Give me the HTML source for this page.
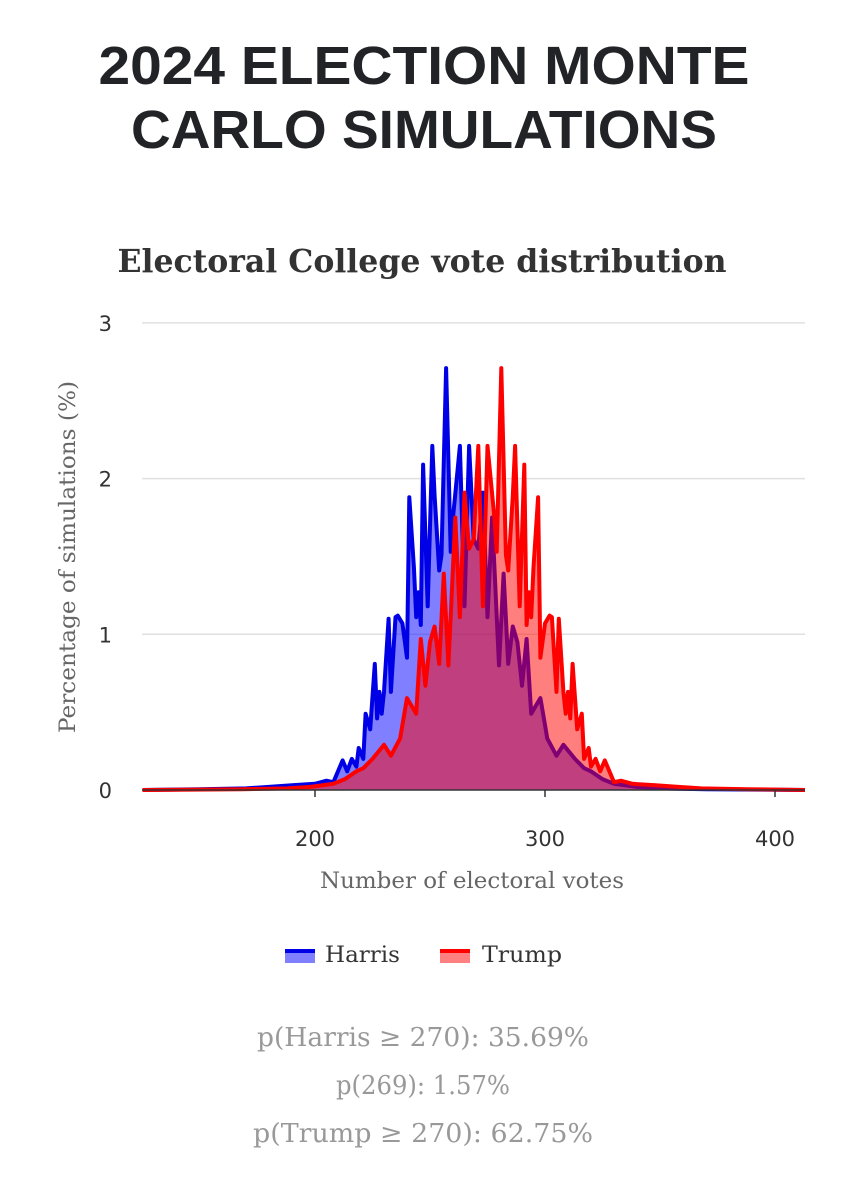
<!DOCTYPE html>
<html><head><meta charset="utf-8"><style>
html,body{margin:0;padding:0;background:#fff;width:848px;height:1200px;overflow:hidden}
svg{display:block}
</style></head><body>
<svg id="chart" width="848" height="1200" viewBox="0 0 848 1200" xmlns="http://www.w3.org/2000/svg">
<text x="424" y="84" text-anchor="middle" font-family="Liberation Sans, sans-serif" font-weight="bold" font-size="54" fill="#222326" textLength="651" lengthAdjust="spacingAndGlyphs">2024 ELECTION MONTE</text>
<text x="424" y="148" text-anchor="middle" font-family="Liberation Sans, sans-serif" font-weight="bold" font-size="54" fill="#222326" textLength="586" lengthAdjust="spacingAndGlyphs">CARLO SIMULATIONS</text>
<text x="422" y="272" text-anchor="middle" font-family="DejaVu Serif, serif" font-weight="bold" font-size="32" fill="#333" textLength="609" lengthAdjust="spacingAndGlyphs">Electoral College vote distribution</text>
<g id="grid"></g>
<g id="series"></g>
<g id="axes"></g>
<text x="472" y="888" text-anchor="middle" font-family="DejaVu Serif, serif" font-size="22" fill="#666" textLength="304" lengthAdjust="spacingAndGlyphs">Number of electoral votes</text>
<text transform="translate(75,557) rotate(-90)" text-anchor="middle" font-family="DejaVu Serif, serif" font-size="22" fill="#666" textLength="352" lengthAdjust="spacingAndGlyphs">Percentage of simulations (%)</text>
<g>
<g>
<rect x="285" y="951" width="30" height="12" fill="#8080ff"/><rect x="285" y="949" width="30" height="4" fill="#0000e6"/>
<text x="325" y="962" font-family="DejaVu Serif, serif" font-size="22" fill="#333" textLength="75" lengthAdjust="spacingAndGlyphs">Harris</text></g>
<g>
<rect x="440" y="951" width="30" height="12" fill="#ff8080"/><rect x="440" y="949" width="30" height="4" fill="#ff0000"/>
<text x="482" y="962" font-family="DejaVu Serif, serif" font-size="22" fill="#333" textLength="80" lengthAdjust="spacingAndGlyphs">Trump</text></g>
</g>
<g font-family="DejaVu Serif, serif" font-size="26" fill="#999" text-anchor="middle">
<text x="423" y="1046" textLength="332" lengthAdjust="spacingAndGlyphs">p(Harris ≥ 270): 35.69%</text>
<text x="423" y="1094" textLength="174" lengthAdjust="spacingAndGlyphs">p(269): 1.57%</text>
<text x="423" y="1142" textLength="340" lengthAdjust="spacingAndGlyphs">p(Trump ≥ 270): 62.75%</text>
</g>
</svg>
<script>
const harrisVotes=[125,150,170,180,190,200,205,208,212,214,216,218,219,221,222,224,226,227,228,229,230,232,233,235,236,238,240,241,243,244,245,246,247,249,251,252,254,255,257,259,260,263,265,267,269,271,273,275,277,280,282,284,286,288,290,292,294,298,301,305,308,313,317,320,325,330,340,350,370,413];
const harrisValues=[0,0.005,0.01,0.02,0.03,0.04,0.06,0.05,0.19,0.12,0.2,0.15,0.27,0.2,0.49,0.39,0.81,0.46,0.63,0.49,0.63,1.10,0.63,1.11,1.12,1.07,0.85,1.88,1.43,1.11,1.27,1.06,2.09,1.18,2.21,1.89,1.41,1.51,2.71,1.53,1.75,2.21,1.18,2.21,1.61,1.55,1.91,1.11,1.75,0.8,1.39,0.81,1.05,0.95,0.67,0.97,0.49,0.59,0.33,0.22,0.29,0.2,0.14,0.12,0.07,0.04,0.02,0.01,0.005,0];
const trumpVotes=[125,168,188,198,208,213,218,221,225,230,233,237,240,244,246,248,250,252,254,256,258,261,263,265,267,269,271,273,275,278,279,281,283,284,286,287,289,291,292,293,294,295,297,298,300,302,303,305,306,308,309,310,311,312,314,316,317,319,320,322,324,326,330,333,338,348,358,368,388,413];
const trumpValues=[0,0.005,0.01,0.02,0.04,0.07,0.12,0.14,0.2,0.29,0.22,0.33,0.59,0.49,0.97,0.67,0.95,1.05,0.81,1.39,0.8,1.75,1.11,1.91,1.55,1.61,2.21,1.18,2.21,1.75,1.53,2.71,1.51,1.41,1.89,2.21,1.18,2.09,1.06,1.27,1.11,1.43,1.88,0.85,1.07,1.12,1.11,0.63,1.10,0.63,0.49,0.63,0.46,0.81,0.39,0.49,0.2,0.27,0.15,0.2,0.12,0.19,0.05,0.06,0.04,0.03,0.02,0.01,0.005,0];
const xTicks=[200,300,400];
const yTicks=[0,1,2,3];
const X0=142,X1=805,Y0=790;
function xs(v){return 315+(v-200)*2.3;}
function ys(v){return Y0-v*155.7;}
const NS='http://www.w3.org/2000/svg';
function mk(tag,attrs,parent){const e=document.createElementNS(NS,tag);for(const k in attrs)e.setAttribute(k,attrs[k]);parent.appendChild(e);return e;}
const grid=document.getElementById('grid'),axes=document.getElementById('axes'),series=document.getElementById('series');
yTicks.forEach(t=>{
  if(t>0){const l=mk('line',{x1:X0,x2:X1,y1:ys(t),y2:ys(t),stroke:'#e0e0e0','stroke-width':1.5},grid);
  
  }
  const tx=mk('text',{x:112,y:ys(t)+8,'text-anchor':'end','font-family':'DejaVu Sans, sans-serif','font-size':21,fill:'#333'},axes);
  tx.textContent=t;
  
  
});
const base=mk('line',{x1:X0,x2:X1,y1:Y0,y2:Y0,stroke:'#333','stroke-width':1.5},axes);


xTicks.forEach(t=>{
  const tk=mk('line',{x1:xs(t),x2:xs(t),y1:Y0,y2:Y0+7,stroke:'#333','stroke-width':1.5},axes);
  
  
  const tx=mk('text',{x:xs(t),y:Y0+56,'text-anchor':'middle','font-family':'DejaVu Sans, sans-serif','font-size':21,fill:'#333'},axes);
  tx.textContent=t;
  
  
});
function draw(votes,vals,fill,stroke,name){
  let pts=votes.map((v,i)=>xs(Math.max(v,125)).toFixed(1)+','+ys(vals[i]).toFixed(1));
  const area=mk('path',{d:'M'+xs(votes[0])+','+Y0+' L'+pts.join(' L')+' L'+xs(votes[votes.length-1])+','+Y0+' Z',fill:fill},series);
  
  
  const line=mk('polyline',{points:pts.join(' '),fill:'none',stroke:stroke,'stroke-width':4,'stroke-linejoin':'round'},series);
  
  
}
draw(harrisVotes,harrisValues,'rgba(0,0,255,0.5)','#0000e6','harris');
draw(trumpVotes,trumpValues,'rgba(255,0,0,0.5)','#ff0000','trump');
</script>
</body></html>
